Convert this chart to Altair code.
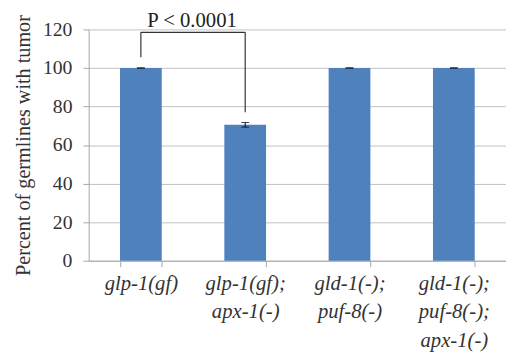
import altair as alt
import pandas as pd

categories = ["glp-1(gf)", "glp-1(gf);|apx-1(-)", "gld-1(-);|puf-8(-)", "gld-1(-);|puf-8(-);|apx-1(-)"]
values = [100, 70.5, 100, 100]
errors = [0.1, 1.2, 0.1, 0.1]
y_ticks = [0, 20, 40, 60, 80, 100, 120]

# significance bracket (between category 1 and 2)
bracket_left_bottom = 105.5
bracket_top = 118.5
bracket_right_bottom = 77
p_label = "P < 0.0001"
p_label_y = 121

df = pd.DataFrame({"cat": categories, "val": values, "err": errors})
df["lo"] = df["val"] - df["err"]
df["hi"] = df["val"] + df["err"]

FONT = "Times New Roman"
BLUE = "#4f81bd"
YTITLE = "Percent of germlines with tumor"

xscale = alt.Scale(domain=categories, paddingInner=0.6, paddingOuter=0.3)
yscale = alt.Scale(domain=[0, 120])

x_axis = alt.Axis(labelExpr="split(datum.label, '|')", labelAngle=0,
                  labelFontStyle="italic", labelFontSize=21,
                  labelLineHeight=29, labelPadding=6,
                  tickBand="extent", grid=False, labelBaseline="top")
y_axis = alt.Axis(values=y_ticks, labelOverlap=False,
                  labelFontSize=20, labelPadding=11,
                  gridColor="#c0c0c0", titleFontSize=20.5,
                  titleFontWeight="normal", titlePadding=9)


def xc(field):
    return alt.X(field, scale=xscale, sort=categories, axis=x_axis, title=None)


def yc(field):
    return alt.Y(field, scale=yscale, axis=y_axis, title=YTITLE)


bars = alt.Chart(df).mark_bar(color=BLUE).encode(x=xc("cat:N"), y=yc("val:Q"))

err_rule = alt.Chart(df).mark_rule(color="black", strokeWidth=1).encode(
    x=xc("cat:N"), y=yc("lo:Q"), y2="hi:Q")
err_cap_hi = alt.Chart(df).mark_tick(color="black", thickness=1, size=8, orient="horizontal").encode(
    x=xc("cat:N"), y=yc("hi:Q"))
err_cap_lo = alt.Chart(df).mark_tick(color="black", thickness=1, size=8, orient="horizontal").encode(
    x=xc("cat:N"), y=yc("lo:Q"))

vdf = pd.DataFrame({
    "cat": [categories[0], categories[1]],
    "y1": [bracket_left_bottom, bracket_right_bottom],
    "y2": [bracket_top, bracket_top],
})
vlines = alt.Chart(vdf).mark_rule(color="#333333", strokeWidth=1.2).encode(
    x=xc("cat:N"), y=yc("y1:Q"), y2="y2:Q")

hdf = pd.DataFrame({"cat": [categories[0]], "c2": [categories[1]], "y": [bracket_top]})
hline = alt.Chart(hdf).mark_rule(color="#333333", strokeWidth=1.2).encode(
    x=xc("cat:N"), x2="c2:N", y=yc("y:Q"))

tdf = pd.DataFrame({"cat": [categories[0]], "y": [p_label_y], "t": [p_label]})
ptext = alt.Chart(tdf).mark_text(font=FONT, fontSize=21, color="#222222", dx=52,
                                 baseline="alphabetic", clip=False).encode(
    x=xc("cat:N"), y=yc("y:Q"), text="t:N")

chart = alt.layer(bars, err_rule, err_cap_hi, err_cap_lo, vlines, hline, ptext).properties(
    width=424, height=235,
    autosize=alt.AutoSizeParams(type="none"),
    padding={"left": 82, "top": 19, "right": 0, "bottom": 91},
).configure(font=FONT).configure_axis(
    labelFont=FONT, titleFont=FONT, labelColor="#333333", titleColor="#333333",
    tickSize=6, tickColor="#a6a6a6", domainColor="#a6a6a6",
).configure_text(font=FONT).configure_view(stroke=None)

chart.save("out.html", embed_options={"renderer": "svg", "actions": False})
